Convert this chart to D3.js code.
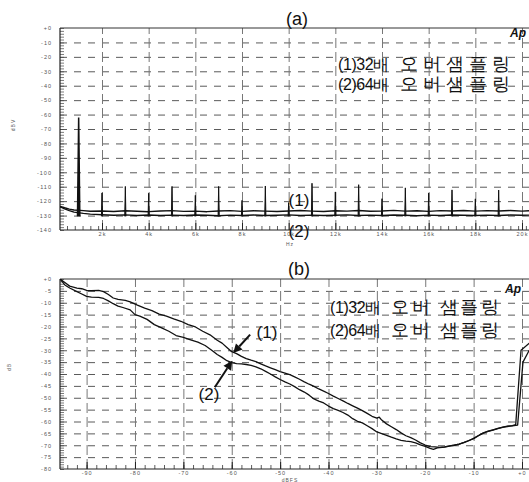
<!DOCTYPE html>
<html>
<head>
<meta charset="utf-8">
<script src="https://cdn.jsdelivr.net/npm/d3@7"></script>
<style>
body { margin: 0; background: #fff; }
svg { display: block; }
text { font-family: "Liberation Sans", Arial, sans-serif; }
</style>
</head>
<body>
<script>
// ---- panel (a): FFT of 1 kHz tone ----
var fftTicks = [2000, 4000, 6000, 8000, 10000, 12000, 14000, 16000, 18000, 20000];
var fftTickLabels = ["2k", "4k", "6k", "8k", "10k", "12k", "14k", "16k", "18k", "20k"];
var dbvTicks = [0, -10, -20, -30, -40, -50, -60, -70, -80, -90, -100, -110, -120, -130, -140];
var dbvTickLabels = ["+0", "-10", "-20", "-30", "-40", "-50", "-60", "-70", "-80", "-90", "-100", "-110", "-120", "-130", "-140"];

// noise floor, [Hz, dBV]
var noise32 = [[200,-123.6],[400,-124.6],[600,-125.5],[800,-126.1],[1200,-126.6],[1500,-127],[2000,-126.8],
  [2500,-127.2],[3000,-126.7],[3500,-127],[4000,-127.3],[4500,-126.8],[5000,-126.6],[5500,-127.1],[6000,-126.9],
  [6500,-127.3],[7000,-126.8],[7500,-126.6],[8000,-127.1],[8500,-126.7],[9000,-126.9],[9500,-127.2],[10000,-126.8],
  [10500,-126.5],[11000,-126.9],[11500,-127.2],[12000,-126.7],[12500,-126.9],[13000,-126.5],[13500,-127],
  [14000,-126.8],[14500,-126.4],[15000,-126.9],[15500,-126.7],[16000,-127.1],[16500,-126.6],[17000,-126.8],
  [17500,-126.5],[18000,-126.9],[18500,-126.6],[19000,-126.8],[19500,-126.5],[20000,-126.9],[20300,-126.7]];
var noise64 = [[200,-123.9],[400,-125.3],[600,-126.6],[800,-127.6],[1200,-128.5],[1500,-129],[2000,-129.4],
  [2500,-129.8],[3000,-129.5],[3500,-129.9],[4000,-129.6],[4500,-129.9],[5000,-129.7],[5500,-130],[6000,-129.6],
  [6500,-129.8],[7000,-130.1],[7500,-129.7],[8000,-129.9],[8500,-129.6],[9000,-130],[9500,-129.8],[10000,-129.5],
  [10500,-129.9],[11000,-129.7],[11500,-130],[12000,-129.8],[12500,-129.5],[13000,-129.9],[13500,-129.7],
  [14000,-130],[14500,-129.6],[15000,-129.8],[15500,-130.1],[16000,-129.7],[16500,-129.9],[17000,-129.6],
  [17500,-129.8],[18000,-130],[18500,-129.7],[19000,-129.9],[19500,-129.6],[20000,-129.8],[20300,-129.7]];
// tone and harmonics, [Hz, peak dBV]
var harmonics = [[1000,-62],[2000,-114.3],[3000,-109.8],[4000,-114.5],[5000,-109.8],[6000,-116],[7000,-109.8],
  [8000,-119.5],[9000,-109.5],[10000,-121],[11000,-107.6],[12000,-113.6],[13000,-108.6],[14000,-118.3],
  [15000,-110.8],[16000,-114.4],[17000,-112.2],[18000,-118.4],[19000,-112.3]];

// ---- panel (b): level sweep ----
var levelTicks = [-90, -80, -70, -60, -50, -40, -30, -20, -10, 0];
var levelTickLabels = ["-90", "-80", "-70", "-60", "-50", "-40", "-30", "-20", "-10", "+0"];
var dbTicks = [0, -5, -10, -15, -20, -25, -30, -35, -40, -45, -50, -55, -60, -65, -70, -75, -80];
var dbTickLabels = ["+0", "-5", "-10", "-15", "-20", "-25", "-30", "-35", "-40", "-45", "-50", "-55", "-60", "-65", "-70", "-75", "-80"];

// [dBFS, dB]
var curve32 = [[-95.5,0],[-94.5,-1.5],[-93.5,-3],[-92,-3.8],[-91,-4.1],[-90,-4.8],[-89,-4.9],[-87.5,-4.8],
  [-86.5,-5.3],[-85.5,-6.5],[-84.5,-8],[-83.5,-8.6],[-82,-9],[-81,-9.6],[-79.5,-11],[-78,-12.3],[-76.5,-13.3],
  [-75,-14.8],[-73.5,-15.6],[-72,-16.8],[-70.5,-17.8],[-69,-19.2],[-67.5,-20.2],[-66,-22],[-64.5,-23.5],
  [-63,-25.8],[-62,-27],[-61,-28.8],[-60,-30.6],[-59,-31.4],[-58,-32.6],[-57,-33.5],[-56,-34.2],[-55,-34.8],
  [-54,-35.7],[-53,-36.6],[-52,-37.4],[-51,-38.2],[-50,-39],[-49,-39.6],[-48,-40.3],[-47,-41.2],[-46,-42.2],
  [-45,-43.3],[-44,-44.3],[-43,-45.2],[-42,-46.3],[-41,-47.2],[-40,-48.2],[-39,-49.3],[-38,-50.3],[-37,-51.3],
  [-36,-52.4],[-35,-53.4],[-34,-54.4],[-33,-55.4],[-32,-56.6],[-31,-57.8],[-30,-58.6],[-29.5,-58.2],[-29,-59.4],
  [-28,-61],[-27,-62.2],[-26,-63.4],[-25,-64.8],[-24,-66],[-23,-66.8],[-22,-67.8],[-21,-69],[-20,-69.9],
  [-19,-70.6],[-18,-70.7],[-17,-70.9],[-16,-70.7],[-15,-70.3],[-14,-69.9],[-13,-69.5],[-12,-68.9],[-11,-68.1],
  [-10,-67.1],[-9,-65.9],[-8,-64.8],[-7,-64.1],[-6,-63.5],[-5,-62.9],[-4,-62.4],[-3,-62],[-2,-61.7],
  [-1.3,-61.3],[-0.2,-30],[1.5,-27]];
var curve64 = [[-95.5,0],[-94.5,-2.5],[-93.5,-3.8],[-92,-5.3],[-91,-6.3],[-90,-7.3],[-89,-7.6],[-87.5,-7.7],
  [-86.5,-8.2],[-85.5,-9.2],[-84.5,-10.4],[-83.5,-11.4],[-82.5,-12],[-81,-13],[-80,-15],[-79,-15.6],[-77.5,-17],
  [-76,-19.2],[-74.5,-20.6],[-73,-22],[-71.5,-23.8],[-70,-24.6],[-68.5,-25.6],[-67,-26.6],[-65.5,-28],
  [-64,-30.2],[-63,-31.8],[-62,-33],[-61,-34.4],[-60,-35.2],[-59,-35.6],[-58,-35.7],[-57,-36],[-56,-36.4],
  [-55,-37],[-54,-37.8],[-53,-38.9],[-52,-40],[-51,-41.2],[-50,-42.3],[-49,-43.3],[-48,-44.2],[-47,-45.3],
  [-46,-46.6],[-45,-47.6],[-44,-48.9],[-43,-50.5],[-42,-51.4],[-41,-52.2],[-40,-53.5],[-39,-54.6],[-38,-55.3],
  [-37,-56.2],[-36,-57.3],[-35,-58.8],[-34,-59.9],[-33,-60.6],[-32,-61.8],[-31,-63],[-30,-64.4],[-29,-65.1],
  [-28,-65.8],[-27,-66.6],[-26,-67.3],[-25,-67.9],[-24,-68.3],[-23,-68.5],[-22,-69],[-21,-69.8],[-20,-70.5],
  [-19,-71.3],[-18.3,-71.7],[-17.5,-71.1],[-16,-70.8],[-15,-70.4],[-14,-70],[-13,-69.5],[-12,-68.8],[-11,-68],
  [-10,-67.2],[-9,-66],[-8,-64.9],[-7,-64.2],[-6,-63.6],[-5,-63],[-4,-62.5],[-3,-62.1],[-2,-61.8],
  [-0.9,-61.5],[0.2,-35],[1.5,-30]];

// legend lines split into [prefix, rest]
var legendA = [["(1)32배", "오버샘플링"], ["(2)64배", "오버샘플링"]];
var legendB = [["(1)32배", "오버 샘플링"], ["(2)64배", "오버 샘플링"]];

var width = 529
var height = 482

var svg = d3.select("body")
	.append("svg")
	.attr("width", width)
	.attr("height", height);

svg.append("rect").attr("width", width).attr("height", height).attr("fill", "#fff");

// scales
var xa = d3.scaleLinear().domain([200, 20000]).range([60, 522]);
var ya = d3.scaleLinear().domain([0, -140]).range([28, 230]);
var xb = d3.scaleLinear().domain([-95.5, 0]).range([60, 522]);
var yb = d3.scaleLinear().domain([0, -80]).range([279, 469]);

function frame(x, y, xTicks, xLabels, yTicks, yLabels, xMinor, yMinor, name) {
	var top = y.range()[0], bottom = y.range()[1], left = x.range()[0];
	var g = svg.append("g");

	// dashed grid
	g.append("g")
		.attr("transform", "translate(" + left + ",0)")
		.call(d3.axisLeft(y).tickValues(yTicks.slice(1, -1)).tickSize(-(width - left)).tickFormat(""))
		.call(function(s) {
			s.select(".domain").remove();
			s.selectAll("line").attr("stroke", "#5a5a5a").attr("stroke-dasharray", "7,7");
		});
	g.append("g")
		.attr("transform", "translate(0," + bottom + ")")
		.call(d3.axisBottom(x).tickValues(xTicks).tickSize(-(bottom - top)).tickFormat(""))
		.call(function(s) {
			s.select(".domain").remove();
			s.selectAll("line").attr("stroke", "#777").attr("stroke-dasharray", "10,4");
		});

	// minor ticks inside the frame
	g.append("g")
		.attr("transform", "translate(" + left + ",0)")
		.call(d3.axisRight(y).tickValues(yMinor).tickSize(4).tickFormat(""))
		.call(function(s) {
			s.select(".domain").remove();
			s.selectAll("line").attr("stroke", "#444").attr("stroke-width", 0.7);
		});
	g.append("g")
		.attr("transform", "translate(0," + bottom + ")")
		.call(d3.axisTop(x).tickValues(xMinor).tickSize(4).tickFormat(""))
		.call(function(s) {
			s.select(".domain").remove();
			s.selectAll("line").attr("stroke", "#333").attr("stroke-width", 0.8);
		});
	g.append("g")
		.attr("transform", "translate(0," + bottom + ")")
		.call(d3.axisTop(x).tickValues(xTicks).tickSize(7).tickFormat(""))
		.call(function(s) {
			s.select(".domain").remove();
			s.selectAll("line").attr("stroke", "#222");
		});

	// tick labels
	g.append("g")
		.attr("transform", "translate(" + (left - 5) + ",0)")
		.call(d3.axisLeft(y).tickValues(yTicks).tickSize(0).tickFormat(function(d, i) { return yLabels[i]; }))
		.call(function(s) {
			s.select(".domain").remove();
			s.selectAll("text").attr("font-size", 5.5).attr("fill", "#555").attr("letter-spacing", 1);
		});
	g.append("g")
		.attr("transform", "translate(0," + (bottom - 1) + ")")
		.call(d3.axisBottom(x).tickValues(xTicks).tickSize(0).tickFormat(function(d, i) { return xLabels[i]; }))
		.call(function(s) {
			s.select(".domain").remove();
			s.selectAll("text").attr("font-size", 5.5).attr("fill", "#555").attr("letter-spacing", 1);
		});

	// frame lines
	g.append("line").attr("x1", left).attr("x2", left).attr("y1", top).attr("y2", bottom)
		.attr("stroke", "#222").attr("stroke-width", 1.2);
	g.append("line").attr("x1", left).attr("x2", width).attr("y1", top).attr("y2", top)
		.attr("stroke", "#333").attr("stroke-width", 1);
	g.append("line").attr("x1", left).attr("x2", width).attr("y1", bottom).attr("y2", bottom)
		.attr("stroke", "#222").attr("stroke-width", 1.2);

	svg.append("clipPath").attr("id", name)
		.append("rect").attr("x", left).attr("y", top).attr("width", width - left).attr("height", bottom - top);
}

frame(xa, ya, fftTicks, fftTickLabels, dbvTicks, dbvTickLabels,
	d3.range(500, 20300, 333.33), d3.range(0, -141, -2), "clipA");
frame(xb, yb, levelTicks, levelTickLabels, dbTicks, dbTickLabels,
	d3.range(-94, 1, 2), d3.range(0, -81, -1), "clipB");

// ---- panel (a) traces ----
var lineA = d3.line().x(function(d) { return xa(d[0]); }).y(function(d) { return ya(d[1]); });
var plotA = svg.append("g").attr("clip-path", "url(#clipA)");

plotA.selectAll(".noise")
	.data([noise64, noise32])
	.enter()
	.append("path")
	.attr("d", lineA)
	.attr("fill", "none")
	.attr("stroke", "#111")
	.attr("stroke-width", 1.4)
	.attr("stroke-linejoin", "round");

plotA.selectAll(".spike")
	.data(harmonics)
	.enter()
	.append("path")
	.attr("d", function(d) {
		var w = d[0] == 1000 ? 50 : 25;
		return lineA([[d[0] - w, -130.5], [d[0], d[1]], [d[0] + w, -130.5]]);
	})
	.attr("fill", "#111")
	.attr("stroke", "#111")
	.attr("stroke-width", function(d) { return d[0] == 1000 ? 1.5 : 1; });

// ---- panel (b) traces ----
var lineB = d3.line().x(function(d) { return xb(d[0]); }).y(function(d) { return yb(d[1]); });
var plotB = svg.append("g").attr("clip-path", "url(#clipB)");

plotB.selectAll(".curve")
	.data([curve32, curve64])
	.enter()
	.append("path")
	.attr("d", lineB)
	.attr("fill", "none")
	.attr("stroke", "#111")
	.attr("stroke-width", 1.3)
	.attr("stroke-linejoin", "round");

// ---- titles and labels ----
function title(txt, x, y, size) {
	svg.append("text").attr("x", x).attr("y", y).attr("text-anchor", "middle")
		.attr("font-size", size).attr("fill", "#111").text(txt);
}
title("(a)", 297, 25, 18);
title("(b)", 299, 275, 18);
title("(1)", 299, 206, 17);
title("(2)", 299, 237, 17);
title("(1)", 267, 338, 17);
title("(2)", 209, 400, 17);

function legend(lines, x, y0, dy, gap, spacing) {
	var t = svg.selectAll(null)
		.data(lines)
		.enter()
		.append("text")
		.attr("x", x)
		.attr("y", function(d, i) { return y0 + i * dy; })
		.attr("font-family", "'Liberation Sans', 'Noto Sans CJK KR', sans-serif")
		.attr("font-size", 16)
		.attr("fill", "#111");
	t.append("tspan").attr("letter-spacing", -0.4).text(function(d) { return d[0]; });
	t.append("tspan")
		.attr("dx", gap)
		.attr("font-size", 18)
		.attr("letter-spacing", spacing)
		.text(function(d) { return d[1]; });
}
legend(legendA, 338, 70, 20, 11, 5);
legend(legendB, 330, 313, 23, 10, 2.6);

function logo(x, y) {
	svg.append("text").attr("x", x).attr("y", y)
		.attr("font-size", 12).attr("font-weight", "bold").attr("font-style", "italic")
		.attr("fill", "#111").text("Ap");
}
logo(510, 37);
logo(505, 293);

// axis titles
function small(txt, x, y, rot) {
	svg.append("text").attr("x", x).attr("y", y).attr("text-anchor", "middle")
		.attr("font-size", 5).attr("fill", "#555").attr("letter-spacing", 1)
		.attr("transform", rot ? "rotate(-90," + x + "," + y + ")" : null).text(txt);
}
small("dBV", 15, 125, true);
small("Hz", 290, 246, false);
small("dB", 11, 367, true);
small("dBFS", 290, 482, false);

// arrows
function arrow(from, to) {
	var x1 = xb(from[0]), y1 = yb(from[1]), x2 = xb(to[0]), y2 = yb(to[1]);
	var a = Math.atan2(y2 - y1, x2 - x1), L = 9, W = 4.5;
	var bx = x2 - L * Math.cos(a), by = y2 - L * Math.sin(a);
	svg.append("line").attr("x1", x1).attr("y1", y1).attr("x2", bx).attr("y2", by)
		.attr("stroke", "#111").attr("stroke-width", 2);
	svg.append("path")
		.attr("d", "M" + x2 + "," + y2 + "L" + (bx + W * Math.sin(a)) + "," + (by - W * Math.cos(a)) +
			"L" + (bx - W * Math.sin(a)) + "," + (by + W * Math.cos(a)) + "Z")
		.attr("fill", "#111");
}
arrow([-56.2, -23.4], [-59.7, -31.2]);
arrow([-63.5, -45.6], [-59.9, -34.4]);
</script>
</body>
</html>
